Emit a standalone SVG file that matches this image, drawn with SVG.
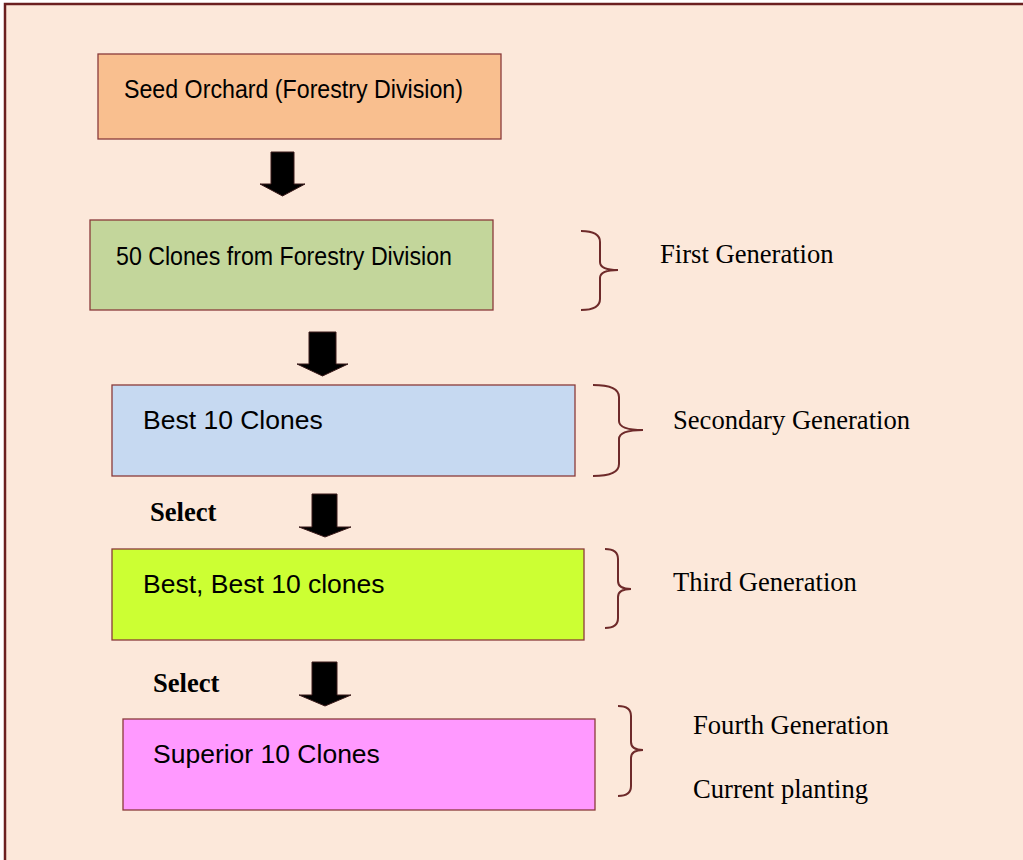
<svg xmlns="http://www.w3.org/2000/svg" width="1023" height="860" viewBox="0 0 1023 860">
<defs>
<style>
.box{stroke:#8A3B3B;stroke-width:1.3}
.lbl{font-family:"Liberation Sans",Arial,sans-serif;font-size:26.5px;fill:#000}
.side{font-family:"Liberation Serif","Times New Roman",serif;font-size:26.6px;fill:#000}
.sel{font-family:"Liberation Serif","Times New Roman",serif;font-size:26.6px;font-weight:bold;fill:#000}
.arrow{fill:#000;stroke:#3a1a1a;stroke-width:1}
.brace{fill:none;stroke:#6E2A2A;stroke-width:2}
</style>
</defs>
<rect x="0" y="0" width="1023" height="860" fill="#ffffff"/>
<rect x="5" y="4" width="1030" height="870" fill="#FCE8DA" stroke="#6B2020" stroke-width="2.5"/>

<g id="node-seed-orchard">
<rect class="box" x="98" y="54" width="403" height="85" fill="#F9BF8F"/>
<text class="lbl" x="124" y="98" textLength="339" lengthAdjust="spacingAndGlyphs">Seed Orchard (Forestry Division)</text>
</g>
<g id="node-50-clones">
<rect class="box" x="90" y="220" width="403" height="90" fill="#C3D69B"/>
<text class="lbl" x="116" y="265" textLength="336" lengthAdjust="spacingAndGlyphs">50 Clones from Forestry Division</text>
</g>
<g id="node-best-10">
<rect class="box" x="112" y="385" width="463" height="91" fill="#C6D9F1"/>
<text class="lbl" x="143" y="429">Best 10 Clones</text>
</g>
<g id="node-best-best-10">
<rect class="box" x="112" y="549" width="472" height="91" fill="#CCFF33"/>
<text class="lbl" x="143" y="593">Best, Best 10 clones</text>
</g>
<g id="node-superior-10">
<rect class="box" x="123" y="719" width="472" height="91" fill="#FF99FF"/>
<text class="lbl" x="153" y="763">Superior 10 Clones</text>
</g>

<g id="connectors">
<polygon class="arrow" points="271,152 294,152 294,184 305,184 282.5,196 260,184 271,184"/>
<polygon class="arrow" points="309,332 336,332 336,364 348,364 322.5,376 297,364 309,364"/>
<polygon class="arrow" points="312,494 337,494 337,527 351,527 325,537 299,527 312,527"/>
<polygon class="arrow" points="312,662 337,662 337,695 351,695 325,706 299,695 312,695"/>
<text class="sel" x="150" y="521">Select</text>
<text class="sel" x="153" y="692">Select</text>
</g>

<g id="brace-first">
<path class="brace" d="M581,231 Q600,231 600,242 L600,262 Q600,270 618,270 Q600,270 600,278 L600,299 Q600,310 581,310"/>
<text class="side" x="660" y="263">First Generation</text>
</g>
<g id="brace-second">
<path class="brace" d="M593,385 Q619,385 619,397 L619,421 Q619,430 643,430 Q619,430 619,439 L619,464 Q619,476 593,476"/>
<text class="side" x="673" y="429">Secondary Generation</text>
</g>
<g id="brace-third">
<path class="brace" d="M605,549 Q618,549 618,559 L618,581 Q618,589 631,589 Q618,589 618,597 L618,618 Q618,628 605,628"/>
<text class="side" x="673" y="591">Third Generation</text>
</g>
<g id="brace-fourth">
<path class="brace" d="M618,706 Q631,706 631,716 L631,742 Q631,750 643,750 Q631,750 631,758 L631,786 Q631,796 618,796"/>
<text class="side" x="693" y="734">Fourth Generation</text>
<text class="side" x="693" y="798">Current planting</text>
</g>
</svg>
